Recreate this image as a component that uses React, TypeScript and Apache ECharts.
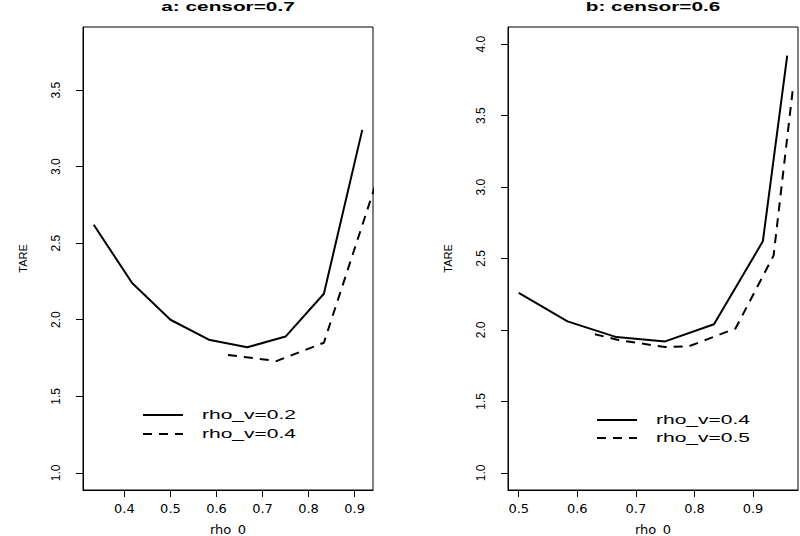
import React, { useEffect, useRef } from "react";
import * as echarts from "echarts";

// ---- data ----
const panelTitles = ["a: censor=0.7", "b: censor=0.6"];
const xTickValuesA = [0.4, 0.5, 0.6, 0.7, 0.8, 0.9];
const xTickValuesB = [0.5, 0.6, 0.7, 0.8, 0.9];
const yTickValuesA = [1.0, 1.5, 2.0, 2.5, 3.0, 3.5];
const yTickValuesB = [1.0, 1.5, 2.0, 2.5, 3.0, 3.5, 4.0];

const seriesNamesA = ["rho_v=0.2", "rho_v=0.4"];
const seriesNamesB = ["rho_v=0.4", "rho_v=0.5"];

const xA1 = [0.3333, 0.4167, 0.5, 0.5833, 0.6667, 0.75, 0.8333, 0.9167];
const yA1 = [2.62, 2.24, 2.0, 1.87, 1.82, 1.89, 2.17, 3.24];
const xA2 = [0.625, 0.73, 0.8333, 0.9583];
const yA2 = [1.77, 1.73, 1.85, 3.0];

const xB1 = [0.5, 0.5833, 0.6667, 0.75, 0.8333, 0.9167, 0.9583];
const yB1 = [2.26, 2.06, 1.95, 1.92, 2.04, 2.62, 3.92];
const xB2 = [0.63, 0.67, 0.75, 0.79, 0.87, 0.935, 0.968];
const yB2 = [1.97, 1.93, 1.88, 1.885, 2.01, 2.52, 3.69];

const zip = (xs: number[], ys: number[]) => xs.map((x, i) => [x, ys[i]]);

const DASH = [9, 7];
const LABEL_FONT = "DejaVu Sans";
const Y_FONT = "Liberation Sans";

function makeXAxis(gridIndex: number, min: number, max: number, ticks: number[]) {
  return {
    type: "value",
    gridIndex,
    min,
    max,
    axisLine: { show: true, lineStyle: { color: "#000", width: 1 } },
    splitLine: { show: false },
    axisTick: { show: true, length: 7, customValues: ticks, lineStyle: { color: "#000", width: 1 } },
    axisLabel: {
      customValues: ticks,
      formatter: (v: number) => v.toFixed(1),
      margin: 12,
      color: "#000",
      fontFamily: LABEL_FONT,
      fontSize: 13,
    },
    name: "rho_0",
    nameLocation: "middle",
    nameGap: 33,
    nameTextStyle: { color: "#000", fontFamily: LABEL_FONT, fontSize: 13 },
  };
}

function makeYAxis(gridIndex: number, min: number, max: number, ticks: number[]) {
  return {
    type: "value",
    gridIndex,
    min,
    max,
    axisLine: { show: true, lineStyle: { color: "#000", width: 1 } },
    splitLine: { show: false },
    axisTick: { show: true, length: 7, customValues: ticks, lineStyle: { color: "#000", width: 1 } },
    axisLabel: {
      customValues: ticks,
      formatter: (v: number) => v.toFixed(1),
      rotate: 90,
      margin: 21,
      color: "#000",
      fontFamily: Y_FONT,
      fontSize: 12,
    },
    name: "TARE",
    nameLocation: "middle",
    nameGap: 55,
    nameTextStyle: { color: "#000", fontFamily: Y_FONT, fontSize: 11 },
  };
}

function legendItems(x0: number, y0: number, gap: number, names: string[]) {
  const items: any[] = [];
  names.forEach((n, i) => {
    const y = y0 + i * gap;
    items.push({
      type: "line",
      shape: { x1: x0, y1: y, x2: x0 + 40, y2: y },
      style: { stroke: "#000", lineWidth: 2, lineDash: i === 0 ? null : DASH },
      silent: true,
    });
    items.push({
      type: "text",
      x: x0 + 59,
      y,
      scaleX: 1.75,
      style: {
        text: n,
        fill: "#000",
        font: `12px '${Y_FONT}'`,
        textAlign: "left",
        textVerticalAlign: "middle",
        verticalAlign: "middle",
      },
      silent: true,
    });
  });
  return items;
}

export default function App() {
  const ref = useRef<HTMLDivElement>(null);

  useEffect(() => {
    if (!ref.current) return;
    const chart = echarts.init(ref.current, null, { renderer: "svg" });
    const option: any = {
      animation: false,
      backgroundColor: "#fff",
      grid: [
        { left: 83, top: 27, width: 290, height: 463, show: true, borderColor: "#000", borderWidth: 1, containLabel: false, outerBoundsMode: "none" },
        { left: 508, top: 27, width: 290, height: 463, show: true, borderColor: "#000", borderWidth: 1, containLabel: false, outerBoundsMode: "none" },
      ],
      xAxis: [
        makeXAxis(0, 0.31, 0.94, xTickValuesA),
        makeXAxis(1, 0.4817, 0.9767, xTickValuesB),
      ],
      yAxis: [
        makeYAxis(0, 0.888, 3.912, yTickValuesA),
        makeYAxis(1, 0.88, 4.12, yTickValuesB),
      ],
      series: [
        {
          name: "a " + seriesNamesA[0], type: "line", xAxisIndex: 0, yAxisIndex: 0,
          data: zip(xA1, yA1), showSymbol: false, symbol: "none",
          lineStyle: { color: "#000", width: 2, type: "solid" },
        },
        {
          name: "a " + seriesNamesA[1], type: "line", xAxisIndex: 0, yAxisIndex: 0,
          data: zip(xA2, yA2), showSymbol: false, symbol: "none", clip: true,
          lineStyle: { color: "#000", width: 2, type: DASH },
        },
        {
          name: "b " + seriesNamesB[0], type: "line", xAxisIndex: 1, yAxisIndex: 1,
          data: zip(xB1, yB1), showSymbol: false, symbol: "none",
          lineStyle: { color: "#000", width: 2, type: "solid" },
        },
        {
          name: "b " + seriesNamesB[1], type: "line", xAxisIndex: 1, yAxisIndex: 1,
          data: zip(xB2, yB2), showSymbol: false, symbol: "none", clip: true,
          lineStyle: { color: "#000", width: 2, type: DASH },
        },
      ],
      graphic: [
        {
          type: "text", x: 228, y: 7, scaleX: 1.6,
          style: { text: panelTitles[0], fill: "#000", font: `bold 13px '${Y_FONT}'`, textAlign: "center", verticalAlign: "middle", textVerticalAlign: "middle" },
        },
        {
          type: "text", x: 653, y: 7, scaleX: 1.6,
          style: { text: panelTitles[1], fill: "#000", font: `bold 13px '${Y_FONT}'`, textAlign: "center", verticalAlign: "middle", textVerticalAlign: "middle" },
        },
        ...legendItems(143, 415, 19, seriesNamesA),
        ...legendItems(597, 420, 18, seriesNamesB),
      ],
    };
    chart.setOption(option);
    return () => chart.dispose();
  }, []);

  return (
    <div
      ref={ref}
      style={{ position: "fixed", left: 0, top: 0, width: 800, height: 536, background: "#fff" }}
    />
  );
}
